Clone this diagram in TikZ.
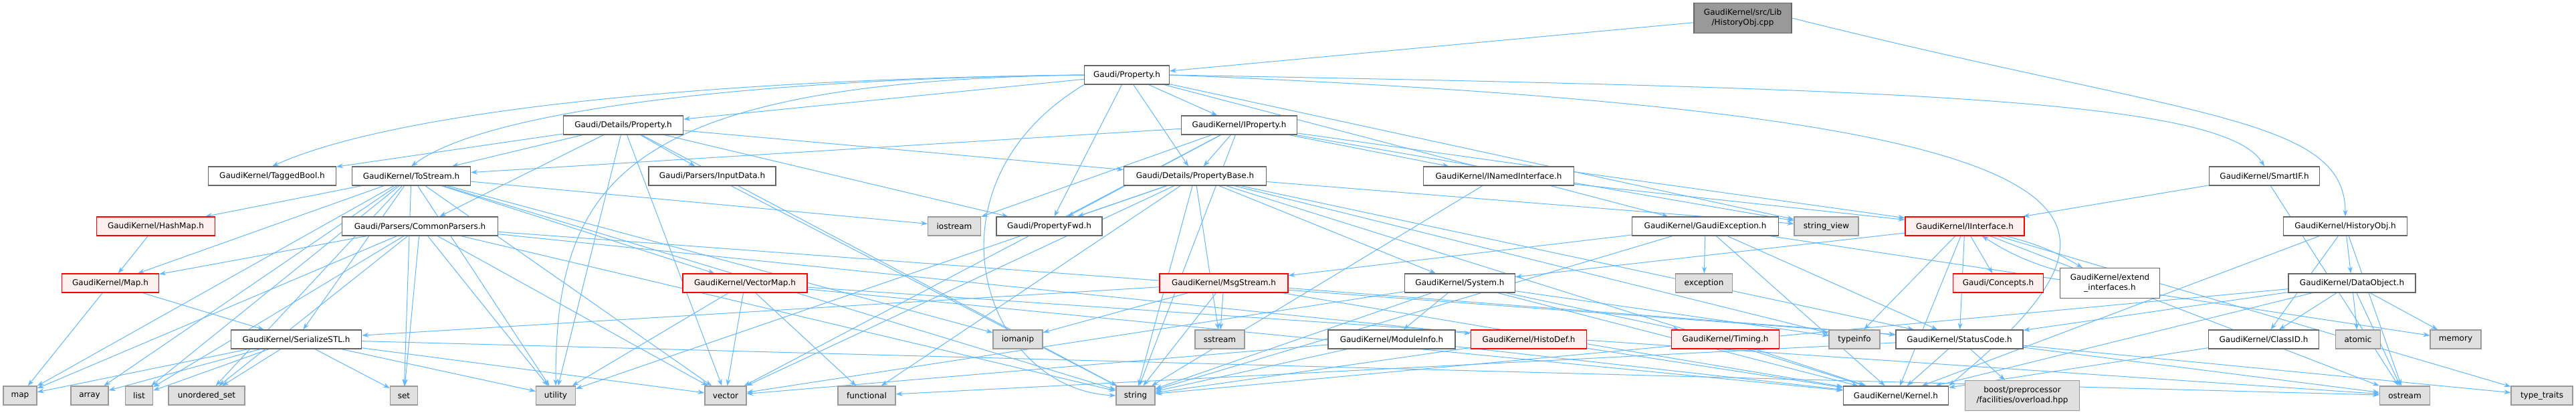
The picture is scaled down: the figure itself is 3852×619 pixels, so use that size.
\documentclass[tikz,border=0pt]{standalone}
\usepackage{fontspec}
\setmainfont{DejaVu Sans}
\usetikzlibrary{arrows.meta,backgrounds}
\definecolor{edgec}{HTML}{63B8FF}
\definecolor{nodegray}{HTML}{666666}
\definecolor{sysgray}{HTML}{999999}
\definecolor{sysfill}{HTML}{E0E0E0}
\definecolor{redfill}{HTML}{FFF0F0}
\definecolor{cppfill}{HTML}{999999}
\begin{document}
\begin{tikzpicture}[x=1pt,y=-1pt,
  font=\fontsize{12}{15}\selectfont,
  nb/.style={draw=nodegray, fill=white, line width=1.2pt, minimum height=28pt, inner sep=0pt, align=center},
  rb/.style={nb, draw=red, fill=redfill},
  sb/.style={nb, draw=sysgray, fill=sysfill},
  cb/.style={nb, draw=nodegray, fill=cppfill, minimum height=45pt},
  ar/.style={draw=edgec, line width=1pt, -{Stealth[length=10pt,width=7pt]}}]
\useasboundingbox (0,0) rectangle (3852,619);
% nodes
\node[cb, minimum width=146pt] (cpp) at (2606,27) {GaudiKernel/src/Lib\\/HistoryObj.cpp};
\node[nb, minimum width=127pt] (prop) at (1685,112) {Gaudi/Property.h};
\node[nb, minimum width=179pt] (dprop) at (932,187) {Gaudi/Details/Property.h};
\node[nb, minimum width=173pt] (iprop) at (1853,187) {GaudiKernel/IProperty.h};
\node[nb, minimum width=191pt] (tagged) at (407,263) {GaudiKernel/TaggedBool.h};
\node[nb, minimum width=177pt] (tostream) at (615,263) {GaudiKernel/ToStream.h};
\node[nb, minimum width=190pt] (inputdata) at (1065,263) {Gaudi/Parsers/InputData.h};
\node[nb, minimum width=213pt] (pbase) at (1787,263) {Gaudi/Details/PropertyBase.h};
\node[nb, minimum width=225pt] (inamed) at (2241,263) {GaudiKernel/INamedInterface.h};
\node[nb, minimum width=165pt] (smartif) at (3386,263) {GaudiKernel/SmartIF.h};
\node[rb, minimum width=177pt] (hashmap) at (233,338) {GaudiKernel/HashMap.h};
\node[nb, minimum width=233pt] (cparsers) at (628,338) {Gaudi/Parsers/CommonParsers.h};
\node[sb, minimum width=79pt] (iostream) at (1427,338) {iostream};
\node[nb, minimum width=158pt] (pfwd) at (1569,338) {Gaudi/PropertyFwd.h};
\node[nb, minimum width=219pt] (gexc) at (2550,338) {GaudiKernel/GaudiException.h};
\node[sb, minimum width=96pt] (strview) at (2731,338) {string\_view};
\node[rb, minimum width=178pt] (iinterface) at (2938,338) {GaudiKernel/IInterface.h};
\node[nb, minimum width=185pt] (histobj) at (3507,338) {GaudiKernel/HistoryObj.h};
\node[rb, minimum width=145pt] (mapk) at (165,423) {GaudiKernel/Map.h};
\node[rb, minimum width=186pt] (vmap) at (1114,423) {GaudiKernel/VectorMap.h};
\node[rb, minimum width=192pt] (msgstream) at (1830,423) {GaudiKernel/MsgStream.h};
\node[nb, minimum width=165pt] (system) at (2183,423) {GaudiKernel/System.h};
\node[sb, minimum width=85pt] (exception) at (2548,423) {exception};
\node[rb, minimum width=135pt] (concepts) at (2988,423) {Gaudi/Concepts.h};
\node[nb, minimum width=149pt, minimum height=45pt] (extend) at (3155,423) {GaudiKernel/extend\\\_interfaces.h};
\node[nb, minimum width=190pt] (dataobj) at (3517,423) {GaudiKernel/DataObject.h};
\node[nb, minimum width=195pt] (serial) at (443,507) {GaudiKernel/SerializeSTL.h};
\node[sb, minimum width=74pt] (iomanip) at (1522,507) {iomanip};
\node[sb, minimum width=74pt] (sstream) at (1824,507) {sstream};
\node[nb, minimum width=190pt] (modinfo) at (2081,507) {GaudiKernel/ModuleInfo.h};
\node[rb, minimum width=173pt] (histodef) at (2286,507) {GaudiKernel/HistoDef.h};
\node[rb, minimum width=161pt] (timing) at (2580,507) {GaudiKernel/Timing.h};
\node[sb, minimum width=76pt] (typeinfo) at (2773,507) {typeinfo};
\node[nb, minimum width=190pt] (statuscode) at (2930,507) {GaudiKernel/StatusCode.h};
\node[nb, minimum width=165pt] (classid) at (3385,507) {GaudiKernel/ClassID.h};
\node[sb, minimum width=67pt] (atomic) at (3526,507) {atomic};
\node[sb, minimum width=76pt] (memory) at (3672,507) {memory};
\node[sb, minimum width=50pt] (map) at (30,591) {map};
\node[sb, minimum width=56pt] (array) at (134,591) {array};
\node[sb, minimum width=41pt] (list) at (208,591) {list};
\node[sb, minimum width=114pt] (uset) at (309,591) {unordered\_set};
\node[sb, minimum width=41pt] (set) at (604,591) {set};
\node[sb, minimum width=59pt] (utility) at (831,591) {utility};
\node[sb, minimum width=62pt] (vector) at (1085,591) {vector};
\node[sb, minimum width=86pt] (functional) at (1296,591) {functional};
\node[sb, minimum width=58pt] (string) at (1698,591) {string};
\node[nb, minimum width=157pt] (kernel) at (2835,591) {GaudiKernel/Kernel.h};
\node[sb, minimum width=171pt, minimum height=45pt] (boost) at (3024,591) {boost/preprocessor\\/facilities/overload.hpp};
\node[sb, minimum width=75pt] (ostream) at (3596,591) {ostream};
\node[sb, minimum width=92pt] (typetraits) at (3801,591) {type\_traits};
% edges
\begin{scope}[on background layer]
\draw[ar] (prop.west) .. controls +(-500,5) and +(200,-90) .. (tagged.north);
\draw[ar] (prop.west) .. controls +(-450,5) and +(120,-90) .. (tostream.north);
\draw[ar] (prop.west) .. controls +(-700,10) and +(0,-300) .. (utility.north);
\draw[ar] (prop.east) .. controls +(1100,20) and +(-60,-100) .. (smartif.north);
\draw[ar] (prop.east) .. controls +(1500,60) and +(300,-250) .. (kernel.north east);
\draw[ar] (prop.south west) .. controls +(-250,150) and +(-200,-10) .. (string.west);
\draw[ar] (cpp.east) .. controls +(600,150) and +(0,-150) .. (histobj.north);
\foreach \a/\b in {
  cpp/prop,
  prop/dprop, prop/iprop, prop/pbase, prop/pfwd,
  prop/strview, prop/gexc,
  dprop/tagged, dprop/tostream, dprop/cparsers, dprop/inputdata, dprop/pfwd, dprop/pbase,
  dprop/utility, dprop/vector, dprop/string,
  inputdata/string,
  iprop/tostream, iprop/pbase, iprop/pfwd, iprop/iinterface, iprop/inamed, iprop/string,
  iprop/strview, iprop/vector, iprop/iostream,
  pbase/pfwd, pbase/string, pbase/strview, pbase/functional, pbase/vector, pbase/utility,
  pbase/kernel, pbase/statuscode, pbase/typeinfo, pbase/sstream, pbase/system,
  inamed/iinterface, inamed/string,
  tostream/hashmap, tostream/mapk, tostream/serial, tostream/vmap, tostream/array,
  tostream/iomanip, tostream/iostream, tostream/list, tostream/map, tostream/set,
  tostream/string, tostream/utility, tostream/vector, tostream/uset,
  cparsers/mapk, cparsers/map, cparsers/list, cparsers/uset, cparsers/set, cparsers/string,
  cparsers/vector, cparsers/utility, cparsers/statuscode, cparsers/histodef,
  hashmap/mapk, mapk/map, mapk/serial,
  serial/map, serial/array, serial/list, serial/uset, serial/set, serial/utility,
  serial/vector, serial/ostream,
  vmap/vector, vmap/functional, vmap/utility, vmap/ostream, vmap/kernel,
  msgstream/serial, msgstream/iomanip, msgstream/sstream, msgstream/string,
  msgstream/kernel, msgstream/statuscode,
  gexc/msgstream, gexc/exception, gexc/kernel, gexc/statuscode, gexc/string, gexc/memory,
  iinterface/system, iinterface/concepts, iinterface/statuscode, iinterface/kernel,
  iinterface/typeinfo, iinterface/ostream, iinterface/typetraits,
  system/modinfo, system/timing, system/typeinfo, system/string, system/vector, system/kernel,
  modinfo/kernel, modinfo/string, modinfo/vector,
  histodef/kernel, histodef/string, timing/kernel,
  statuscode/kernel, statuscode/boost, statuscode/ostream, statuscode/typetraits,
  statuscode/functional,
  classid/kernel,
  dataobj/statuscode, dataobj/classid, dataobj/atomic, dataobj/memory, dataobj/ostream,
  dataobj/kernel, dataobj/string,
  histobj/dataobj, histobj/classid, histobj/kernel, histobj/ostream,
  smartif/iinterface, smartif/ostream}
  \draw[ar] (\a) -- (\b);
\draw[ar] (iinterface) to[bend left=8] (extend);
\draw[ar] (extend) to[bend left=8] (iinterface);
\end{scope}
\end{tikzpicture}
\end{document}
